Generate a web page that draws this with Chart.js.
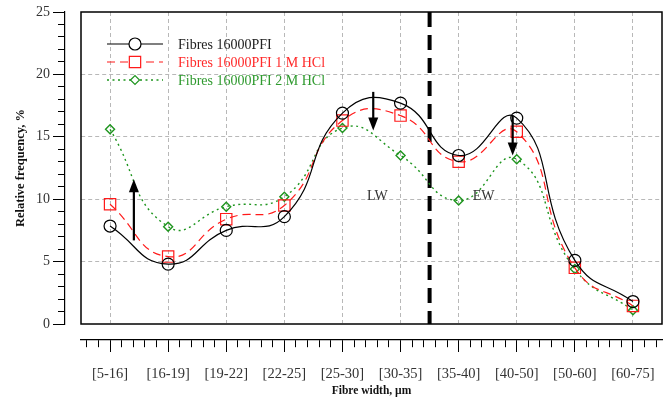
<!DOCTYPE html>
<html>
<head>
<meta charset="utf-8">
<script src="https://cdn.jsdelivr.net/npm/chart.js"></script>
<style>
  body { margin: 0; background: #fff; }
  #wrap { width: 672px; height: 400px; }
</style>
</head>
<body>
<div id="wrap"><canvas id="grafico" width="672" height="400"></canvas></div>
<script>
// dados
const categorias = ['[5-16]','[16-19]','[19-22]','[22-25]','[25-30]','[30-35]','[35-40]','[40-50]','[50-60]','[60-75]']
const pfi = [7.85, 4.8, 7.5, 8.6, 16.9, 17.7, 13.5, 16.5, 5.1, 1.8]
const hcl1 = [9.6, 5.4, 8.4, 9.5, 16.3, 16.7, 13.0, 15.4, 4.5, 1.45]
const hcl2 = [15.6, 7.8, 9.4, 10.2, 15.7, 13.5, 9.9, 13.2, 4.4, 1.1]
const nomes = ['Fibres 16000PFI', 'Fibres 16000PFI 1 M HCl', 'Fibres 16000PFI 2 M HCl']

// setas (posição em categorias, valores em %)
const setaX = [0.41, 4.53, 6.93]
const setaDe = [6.7, 18.6, 16.7]
const setaAte = [11.6, 15.5, 13.5]
const divisao = 5.5
const rotulos = ['LW', 'EW']
const rotuloX = [4.6, 6.43]
const rotuloY = [10.25, 10.25]

const serif = "'Liberation Serif', 'DejaVu Serif', serif"
Chart.defaults.font.family = serif
Chart.defaults.color = '#333'

const pontos = arr => arr.map((v, i) => ({x: i, y: v}))
const inteiro = v => Math.abs(v - Math.round(v)) < 1e-6

const data = {
  datasets: [{
    label: nomes[0],
    data: pontos(pfi),
    borderColor: '#000',
    borderWidth: 1.2,
    pointStyle: 'circle',
    pointRadius: 6,
    pointBorderColor: '#000',
    pointBackgroundColor: 'rgba(0,0,0,0)',
    textColor: '#222'
  }, {
    label: nomes[1],
    data: pontos(hcl1),
    borderColor: '#ff1a1a',
    borderWidth: 1.2,
    borderDash: [8, 5],
    pointStyle: 'rect',
    pointRadius: 8,
    pointBorderColor: '#ff1a1a',
    pointBackgroundColor: 'rgba(0,0,0,0)',
    textColor: '#ff2a2a'
  }, {
    label: nomes[2],
    data: pontos(hcl2),
    borderColor: '#1e951e',
    borderWidth: 1.4,
    borderDash: [2, 3.5],
    pointStyle: 'rectRot',
    pointRadius: 4.5,
    pointBorderColor: '#1e951e',
    pointBackgroundColor: 'rgba(0,0,0,0)',
    textColor: '#2f9a2f'
  }]
}

// moldura, divisória, setas, textos e legenda
const extras = {
  id: 'extras',
  beforeDatasetsDraw(chart) {
    const {ctx, chartArea: a, scales: {x, y}} = chart
    ctx.save()
    ctx.strokeStyle = '#000'
    ctx.lineWidth = 1.5
    ctx.strokeRect(a.left, a.top, a.right - a.left, a.bottom - a.top)
    // linha vertical tracejada
    const xd = x.getPixelForValue(divisao)
    ctx.lineWidth = 4
    ctx.setLineDash([15, 8])
    ctx.beginPath()
    ctx.moveTo(xd, a.top)
    ctx.lineTo(xd, a.bottom)
    ctx.stroke()
    ctx.restore()
  },
  afterDatasetsDraw(chart) {
    const {ctx, chartArea: a, scales: {x, y}} = chart
    ctx.save()
    // setas
    ctx.strokeStyle = '#000'
    ctx.fillStyle = '#000'
    setaX.forEach((sx, i) => {
      const px = x.getPixelForValue(sx)
      const y0 = y.getPixelForValue(setaDe[i])
      const y1 = y.getPixelForValue(setaAte[i])
      const dir = y1 < y0 ? -1 : 1
      ctx.lineWidth = 2.2
      ctx.beginPath()
      ctx.moveTo(px, y0)
      ctx.lineTo(px, y1 - dir * 10)
      ctx.stroke()
      ctx.beginPath()
      ctx.moveTo(px, y1)
      ctx.lineTo(px - 5, y1 - dir * 13)
      ctx.lineTo(px + 5, y1 - dir * 13)
      ctx.closePath()
      ctx.fill()
    })
    // LW / EW
    ctx.font = '14px ' + serif
    ctx.fillStyle = '#333'
    ctx.textAlign = 'center'
    ctx.textBaseline = 'middle'
    rotulos.forEach((t, i) => {
      ctx.fillText(t, x.getPixelForValue(rotuloX[i]), y.getPixelForValue(rotuloY[i]))
    })
    // legenda
    const lx = a.left + 26
    let ly = a.top + 32
    ctx.textAlign = 'left'
    chart.data.datasets.forEach(ds => {
      ctx.strokeStyle = ds.borderColor
      ctx.lineWidth = ds.borderWidth
      ctx.setLineDash(ds.borderDash || [])
      ctx.beginPath()
      ctx.moveTo(lx, ly)
      ctx.lineTo(lx + 56, ly)
      ctx.stroke()
      ctx.setLineDash([])
      const cx = lx + 28
      ctx.lineWidth = 1.2
      ctx.fillStyle = '#fff'
      ctx.beginPath()
      if (ds.pointStyle === 'circle') {
        ctx.arc(cx, ly, ds.pointRadius, 0, Math.PI * 2)
      } else if (ds.pointStyle === 'rect') {
        const s = ds.pointRadius * Math.SQRT1_2
        ctx.rect(cx - s, ly - s, 2 * s, 2 * s)
      } else {
        const r = ds.pointRadius
        ctx.moveTo(cx - r, ly); ctx.lineTo(cx, ly - r); ctx.lineTo(cx + r, ly); ctx.lineTo(cx, ly + r); ctx.closePath()
      }
      ctx.fill()
      ctx.stroke()
      ctx.fillStyle = ds.textColor
      ctx.fillText(ds.label, lx + 71, ly + 1)
      ly += 18
    })
    ctx.restore()
  }
}

const config = {
  type: 'line',
  data,
  options: {
    responsive: false,
    animation: false,
    layout: { padding: { top: 12, right: 10, left: 0, bottom: 0 } },
    elements: { line: { tension: 0.5, fill: false } },
    plugins: { legend: { display: false }, tooltip: { enabled: false } },
    scales: {
      x: {
        type: 'linear',
        position: 'bottom',
        weight: 1,
        min: -0.5,
        max: 9.5,
        afterBuildTicks: s => {
          const t = []
          for (let j = -2; j <= 47; j++) t.push({value: j / 5})
          s.ticks = t
        },
        afterFit: s => { s.height = 60 },
        ticks: {
          autoSkip: false,
          maxRotation: 0,
          padding: 13,
          color: '#333',
          font: { size: 14.5 },
          callback: v => inteiro(v) ? categorias[Math.round(v)] : ''
        },
        grid: {
          tickLength: 12,
          tickColor: '#000',
          tickWidth: 1,
          color: c => c.tick && inteiro(c.tick.value) ? '#b8b8b8' : 'rgba(0,0,0,0)',
          tickBorderDash: c => c.tick && inteiro(c.tick.value) ? [] : [7, 100]
        },
        border: { display: true, color: '#000', width: 1.2, dash: [4, 3] },
        title: {
          display: true,
          text: 'Fibre width, µm',
          font: { size: 11.5, weight: 'bold' },
          color: '#111',
          padding: { top: 0, bottom: 2 }
        }
      },
      xGap: {
        type: 'linear',
        position: 'bottom',
        weight: 0,
        afterFit: s => { s.height = 16 },
        ticks: { display: false },
        grid: { display: false, drawTicks: false },
        border: { display: false }
      },
      y: {
        type: 'linear',
        position: 'left',
        weight: 1,
        min: 0,
        max: 25,
        afterBuildTicks: s => {
          const t = []
          for (let j = 0; j <= 25; j++) t.push({value: j})
          s.ticks = t
        },
        afterFit: s => { s.width = 65 },
        ticks: {
          autoSkip: false,
          padding: 3,
          color: '#333',
          font: { size: 14 },
          callback: v => v % 5 === 0 ? v : ''
        },
        grid: {
          tickLength: 12,
          tickColor: '#000',
          tickWidth: 1,
          color: c => c.tick && c.tick.value % 5 === 0 && c.tick.value > 0 && c.tick.value < 25 ? '#b8b8b8' : 'rgba(0,0,0,0)',
          tickBorderDash: c => c.tick && c.tick.value % 5 === 0 ? [] : [0, 5, 7, 100]
        },
        border: { display: true, color: '#000', width: 1.2, dash: [4, 3] },
        title: {
          display: true,
          text: 'Relative frequency, %',
          font: { size: 12.5, weight: 'bold' },
          color: '#111',
          padding: { top: 13, bottom: 0 }
        }
      },
      yGap: {
        type: 'linear',
        position: 'left',
        weight: 0,
        afterFit: s => { s.width = 16 },
        ticks: { display: false },
        grid: { display: false, drawTicks: false },
        border: { display: false }
      }
    }
  },
  plugins: [extras]
}

const grafico = new Chart(document.getElementById('grafico'), config)
</script>
</body>
</html>
